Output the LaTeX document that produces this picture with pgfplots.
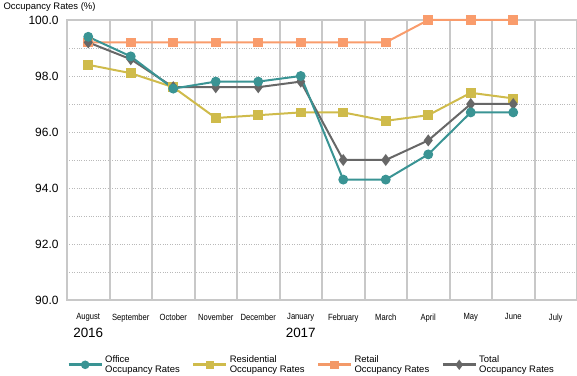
\documentclass[border=0pt]{standalone}
\usepackage{fontspec}
\setmainfont{Liberation Sans}
\usepackage{graphicx}
\usepackage{pgfplots}
\pgfplotsset{compat=1.18}
\definecolor{office}{RGB}{58,148,148}
\definecolor{resid}{RGB}{207,187,75}
\definecolor{retail}{RGB}{249,156,108}
\definecolor{total}{RGB}{103,103,103}
\definecolor{gridc}{RGB}{200,200,200}
\newcommand\mo[1]{\scalebox{0.85}[1]{#1}}
\begin{document}
\begin{tikzpicture}
\begin{axis}[
  scale only axis, width=510bp, height=280bp,
  xmin=-0.5, xmax=11.5, ymin=90, ymax=100,
  xtick={0,1,2,3,4,5,6,7,8,9,10,11},
  xticklabels={\mo{August},\mo{September},\mo{October},\mo{November},\mo{December},\mo{January},\mo{February},\mo{March},\mo{April},\mo{May},\mo{June},\mo{July}},
  extra x ticks={0.5118,1.5,2.5118,3.5,4.5118,5.5,6.5118,7.5,8.5118,9.5,10.5118},
  extra x tick labels={},
  extra x tick style={xmajorgrids=true, major x grid style={gridc, line width=1.2bp}, major tick length=0pt},
  ytick={90,92,...,100},
  minor ytick={91,93,...,99},
  yticklabel style={/pgf/number format/fixed,/pgf/number format/fixed zerofill,/pgf/number format/precision=1,/pgf/number format/assume math mode=true,font=\fontsize{12}{14}\selectfont, xshift=-5bp},
  xticklabel style={font=\fontsize{9}{10}\selectfont, yshift=-10bp},
  major tick length=0pt, minor tick length=0pt,
  yminorgrids=true, ymajorgrids=true,
  minor y grid style={gray!55, dotted, line width=0.6bp},
  major y grid style={gray!55, dotted, line width=0.6bp},
  axis line style={gridc, line width=1.2bp},
  every axis plot/.append style={line width=2bp},
  legend style={at={(axis description cs:0,-0.19)}, anchor=north west, draw=none, inner sep=0pt, legend columns=4, font=\fontsize{9.5}{10.5}\selectfont, /tikz/every even column/.append style={column sep=10bp}, cells={align=left, anchor=west}},
  legend image code/.code={\draw[mark repeat=2,mark phase=2,line width=3bp] plot coordinates {(0bp,0bp) (16.5bp,0bp) (33bp,0bp)};},
  clip=false,
]
\addlegendimage{office, mark=*, mark options={solid, scale=1.35}}
\addlegendentry{Office\\Occupancy Rates}
\addlegendimage{resid, mark=square*, mark options={solid, scale=1.35}}
\addlegendentry{Residential\\Occupancy Rates}
\addlegendimage{retail!90!brown, mark=square*, mark options={solid, scale=1.35}}
\addlegendentry{Retail\\Occupancy Rates}
\addlegendimage{total, mark=diamond*, mark options={solid, scale=1.35}}
\addlegendentry{Total\\Occupancy Rates}

\addplot[retail, mark=square*, mark size=3.8bp, forget plot] coordinates {
(0,99.2) (1,99.2) (2,99.2) (3,99.2) (4,99.2) (5,99.2) (6,99.2) (7,99.2) (8,100.0) (9,100.0) (10,100.0)};
\addplot[resid, mark=square*, mark size=3.8bp, forget plot] coordinates {
(0,98.4) (1,98.1) (2,97.6) (3,96.5) (4,96.6) (5,96.7) (6,96.7) (7,96.4) (8,96.6) (9,97.4) (10,97.2)};
\addplot[total, mark=diamond*, mark size=4.4bp, forget plot] coordinates {
(0,99.2) (1,98.6) (2,97.6) (3,97.6) (4,97.6) (5,97.8) (6,95.0) (7,95.0) (8,95.7) (9,97.0) (10,97.0)};
\addplot[office, mark=*, mark size=3.9bp, forget plot] coordinates {
(0,99.4) (1,98.7) (2,97.55) (3,97.8) (4,97.8) (5,98.0) (6,94.3) (7,94.3) (8,95.2) (9,96.7) (10,96.7)};

\node[font=\fontsize{13.5}{15}\selectfont] at (axis cs:0,90) [yshift=-33bp] {2016};
\node[font=\fontsize{13.5}{15}\selectfont] at (axis cs:5,90) [yshift=-33bp] {2017};
\end{axis}
\node[anchor=west, font=\fontsize{9.5}{11}\selectfont] at (-67bp,293bp) {Occupancy Rates (\%)};
\pgfresetboundingbox
\useasboundingbox (-67bp,-76bp) rectangle (510bp,300bp);
\end{tikzpicture}
\end{document}
